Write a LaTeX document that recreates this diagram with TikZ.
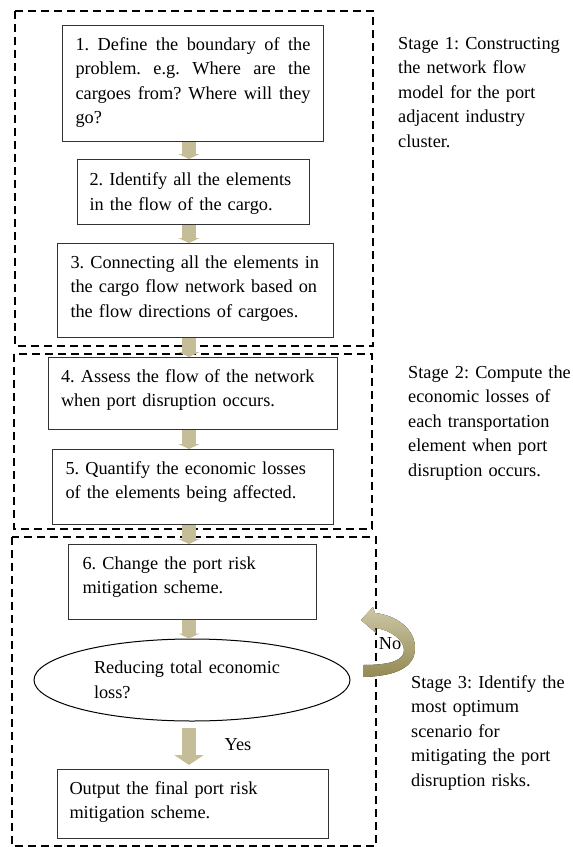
\documentclass[tikz,border=0pt]{standalone}
\usepackage{fontspec}
\setmainfont{Liberation Serif}
\usetikzlibrary{shapes.geometric,arrows.meta}
\frenchspacing
\hyphenpenalty=10000
\definecolor{tanarrow}{HTML}{C4BD97}
\definecolor{olivearrow}{HTML}{948A54}
\tikzset{
  every node/.style={font=\fontsize{18.3}{24.6}\selectfont},
  stepbox/.style={draw=black!80,line width=1pt,anchor=north west,inner ysep=0pt,align=left,text height=24.5pt},
  stagebox/.style={draw,line width=1.3pt,dash pattern=on 8pt off 5pt},
  flow/.style={draw=tanarrow,line width=14pt,-{Triangle[width=21pt,length=5pt]}},
  stagenote/.style={anchor=base west,inner sep=0pt,align=left,text width=175pt},
}
\begin{document}
\begin{tikzpicture}[x=1pt,y=-1pt]
\useasboundingbox (0,0) rectangle (573,847);
% stage frames
\draw[stagebox] (15,11) rectangle (373,346);
\draw[stagebox] (14,354) rectangle (372,529);
\draw[stagebox] (12,537) rectangle (376,846);
% steps
\node[stepbox,inner xsep=13pt,text width=235pt,text depth=91.5pt,align=justify] (s1) at (62,25) {1. Define the boundary of the\linebreak problem. e.g. Where are the\linebreak cargoes from? Where will they\linebreak go?};
\node[stepbox,inner xsep=12pt,text width=208pt,text height=26pt,text depth=39pt] (s2) at (77,159) {2. Identify all the elements\\in the flow of the cargo.};
\node[stepbox,inner xsep=13pt,text width=250pt,text depth=69.5pt] (s3) at (57,243) {\mbox{3. Connecting all the elements in}\\\mbox{the cargo flow network based on}\\the flow directions of cargoes.};
\node[stepbox,inner xsep=12.5pt,text width=264pt,text depth=47.5pt] (s4) at (48,357) {4. Assess the flow of the network\\when port disruption occurs.};
\node[stepbox,inner xsep=13pt,text width=255pt,text depth=50.5pt] (s5) at (52,449) {5. Quantify the economic losses\\of the elements being affected.};
\node[stepbox,inner xsep=14pt,text width=220pt,text depth=50.5pt] (s6) at (68,544) {6. Change the port risk\\mitigation scheme.};
\node[ellipse,draw,line width=1pt,minimum width=316pt,minimum height=82pt,inner sep=0pt,text width=196pt,align=left] (q) at (192,680) {Reducing total economic\\loss?};
\node[stepbox,inner xsep=12pt,text width=247pt,text depth=44.5pt] (s7) at (57,769) {Output the final port risk\\mitigation scheme.};
% arrows
\coordinate (mid) at (189,0);
\draw[flow] (s1.south -| mid) -- (s2.north -| mid);
\draw[flow] (s2.south -| mid) -- (s3.north -| mid);
\draw[flow] (s3.south -| mid) -- (s4.north -| mid);
\draw[flow] (s4.south -| mid) -- (s5.north -| mid);
\draw[flow] (s5.south -| mid) -- (s6.north -| mid);
\draw[flow] (s6.south -| mid) -- (q.north -| mid);
\draw[flow,-{Triangle[width=29pt,length=10pt]},shorten <=6pt,shorten >=4pt] (q.south -| mid) -- (s7.north -| mid);
\node (yes) at (238,745) {Yes};
% loop back
\fill[top color=tanarrow!85!white,bottom color=olivearrow] (363,677) .. controls (397,676) and (415,667) .. (415,648) .. controls (415,628) and (395,615) .. (375,613) -- (373,607) -- (361,620) -- (376,633) -- (375,628) .. controls (391,630) and (404,640) .. (404,650) .. controls (404,660) and (392,665) .. (363,665) -- cycle;
\node (no) at (390,644) {No};
% stage notes
\node[stagenote] (n1) at (398,49) {Stage 1: Constructing\\the network flow\\model for the port\\adjacent industry\\cluster.};
\node[stagenote] (n2) at (408,378) {Stage 2: Compute the\\economic losses of\\each transportation\\element when port\\disruption occurs.};
\node[stagenote] (n3) at (411,688) {Stage 3: Identify the\\most optimum\\scenario for\\mitigating the port\\disruption risks.};
\end{tikzpicture}
\end{document}
